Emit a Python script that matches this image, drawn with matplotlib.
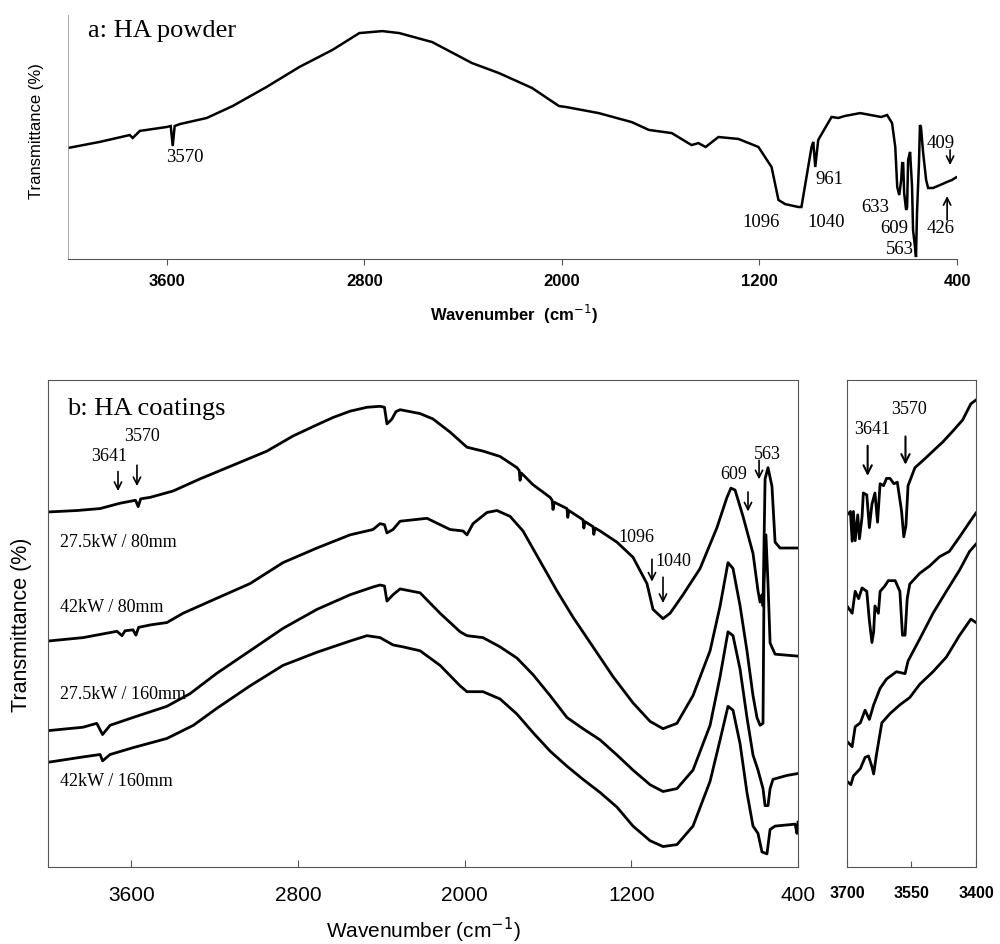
import matplotlib
matplotlib.use("Agg")
import matplotlib.pyplot as plt

SERIF = ["Liberation Serif", "DejaVu Serif"]
SANS = ["Liberation Sans", "DejaVu Sans"]

# ---------------- data ----------------
# Panel a: HA powder (wavenumber cm-1, transmittance a.u.)
powder = [(4000,45.5),(3871,48.0),(3750,50.8),(3738,49.6),(3709,52.5),(3600,54.1),(3584,54.5),
          (3576,46.3),(3568,54.5),(3547,55.3),(3438,57.8),(3333,62.7),(3196,70.5),(3063,78.7),
          (2929,85.7),(2820,92.6),(2727,93.4),(2659,92.6),(2525,88.9),(2364,80.3),(2255,76.2),
          (2121,70.1),(2012,62.7),(1984,62.3),(1851,59.8),(1717,56.1),(1648,52.9),(1555,51.6),
          (1475,46.7),(1447,47.5),(1418,45.9),(1366,50.0),(1285,49.2),(1204,45.9),(1151,37.7),
          (1123,24.2),(1096,22.5),(1042,21.3),(1030,21.3),(989,45.9),(982,48.0),(974,37.7),
          (962,48.8),(908,58.2),(881,57.8),(855,58.6),(792,59.8),(707,58.2),(683,59.0),(663,55.7),
          (650,45.9),(642,29.5),(634,26.2),(626,32.4),(622,39.3),(618,39.3),(614,27.0),(606,20.1),
          (602,21.3),(598,40.6),(590,43.9),(582,29.5),(578,11.9),(570,4.9),(566,0.8),(562,18.9),
          (554,39.3),(550,54.9),(546,54.1),(537,43.4),(525,32.4),(517,29.1),(497,29.1),(469,30.3),
          (440,31.6),(420,32.4),(408,33.2),(400,33.6)]

# Panel b: HA coatings
c_27_80 = [(4000,72.9),(3861,73.2),(3750,73.6),(3654,74.7),(3580,75.3),(3567,74.0),(3555,75.6),
           (3510,75.9),(3400,77.2),(3270,79.7),(3112,82.5),(2949,85.4),(2824,88.5),(2709,90.8),
           (2632,92.3),(2550,93.6),(2469,94.4),(2406,94.6),(2385,94.4),(2373,91.0),(2360,91.5),
           (2349,92.0),(2330,93.5),(2310,93.9),(2214,93.1),(2152,92.0),(2070,89.3),(1989,86.2),
           (1912,85.4),(1830,84.3),(1749,82.0),(1738,81.4),(1734,79.4),(1728,80.9),(1672,78.5),
           (1590,75.9),(1580,75.3),(1576,73.4),(1570,74.9),(1509,73.6),(1505,71.8),(1500,73.2),
           (1432,71.3),(1428,69.6),(1422,70.9),(1384,69.9),(1380,68.3),(1374,69.6),(1350,69.0),
           (1269,66.7),(1192,63.6),(1125,58.2),(1096,52.9),(1048,51.0),(1014,52.1),(952,55.9),
           (870,61.3),(789,69.7),(741,75.9),(722,77.8),(702,77.4),(664,72.0),(616,64.4),(592,56.7),
           (582,54.4),(573,55.9),(568,53.6),(558,79.7),(544,82.0),(525,78.2),(510,66.7),(486,65.5),
           (400,65.5)]
c_42_80 = [(4000,46.4),(3832,47.1),(3669,48.4),(3645,47.5),(3630,48.5),(3592,48.7),(3578,47.6),
           (3565,49.2),(3510,49.7),(3429,50.2),(3352,52.1),(3189,55.2),(3030,58.2),(2872,62.5),
           (2709,65.5),(2550,68.2),(2440,69.3),(2406,70.5),(2385,70.3),(2373,68.6),(2344,69.3),
           (2310,71.0),(2181,71.6),(2070,69.3),(2008,69.0),(1989,68.2),(1960,70.5),(1893,72.8),
           (1845,73.2),(1782,72.0),(1720,69.0),(1638,62.8),(1557,56.7),(1480,51.3),(1384,45.2),
           (1288,39.1),(1192,33.7),(1110,29.9),(1048,28.4),(981,29.5),(904,35.2),(822,44.4),
           (774,53.6),(736,62.5),(712,61.3),(678,53.6),(645,44.4),(616,35.2),(597,30.7),(582,29.1),
           (568,29.5),(563,58.2),(554,68.2),(544,58.2),(534,46.0),(510,43.7),(400,43.3)]
c_27_160 = [(4000,28.0),(3832,28.7),(3766,29.5),(3738,27.2),(3702,29.1),(3592,30.7),(3429,33.0),
            (3318,35.6),(3189,39.8),(3030,44.4),(2872,49.0),(2709,52.9),(2550,55.9),(2440,57.5),
            (2406,57.9),(2385,57.7),(2373,54.6),(2344,55.9),(2310,57.1),(2214,56.3),(2118,52.1),
            (2022,48.3),(1989,47.5),(1912,47.1),(1830,45.2),(1749,42.9),(1672,39.5),(1590,35.2),
            (1509,30.7),(1432,28.4),(1350,26.1),(1269,23.0),(1192,19.9),(1110,16.9),(1048,15.5),
            (981,16.1),(904,19.9),(822,29.1),(774,39.1),(736,48.3),(712,47.5),(678,40.6),(645,30.7),
            (616,23.0),(592,19.9),(568,16.1),(558,12.6),(544,12.6),(534,16.1),(520,18.0),(453,18.8),
            (400,19.2)]
c_42_160 = [(4000,21.5),(3832,22.6),(3750,23.1),(3738,21.8),(3702,23.1),(3592,24.5),(3429,26.4),
            (3302,29.1),(3189,32.6),(3030,37.2),(2872,41.4),(2709,44.1),(2550,46.4),(2469,47.5),
            (2406,47.1),(2344,45.6),(2296,45.2),(2214,44.4),(2118,41.4),(2022,37.2),(1989,36.0),
            (1912,36.0),(1830,34.5),(1749,31.4),(1672,27.6),(1590,23.8),(1509,20.7),(1432,18.0),
            (1350,15.3),(1269,12.3),(1192,8.4),(1110,5.4),(1048,4.2),(981,4.6),(904,8.4),(822,17.6),
            (774,26.1),(736,33.0),(712,32.2),(678,25.3),(645,15.3),(616,8.4),(592,6.9),(573,3.1),
            (549,2.7),(534,7.7),(510,8.4),(414,8.8),(405,6.9),(400,9.2)]
coat_labels = ["27.5kW / 80mm", "42kW / 80mm", "27.5kW / 160mm", "42kW / 160mm"]
coat_label_T = [66.6, 53.2, 35.4, 17.5]

# Panel c: 3700-3400 zoom
z_27_80 = [(3700,72.3),(3692,73.0),(3688,66.9),(3685,73.0),(3681,67.0),(3675,72.3),(3671,67.4),
           (3665,71.9),(3662,76.8),(3654,76.4),(3648,69.7),(3642,74.5),(3635,76.8),(3629,70.8),
           (3623,78.7),(3615,78.3),(3608,79.8),(3600,79.8),(3591,78.7),(3583,79.0),(3573,73.0),
           (3568,67.8),(3563,70.0),(3558,78.3),(3542,82.0),(3523,83.5),(3500,85.4),(3477,87.3),
           (3454,89.5),(3431,91.8),(3412,95.1),(3400,95.9)]
z_42_80 = [(3700,53.6),(3688,52.1),(3681,56.6),(3673,55.1),(3665,57.3),(3654,56.6),(3648,50.6),
           (3642,46.1),(3638,48.3),(3635,53.6),(3627,52.1),(3623,56.6),(3612,57.7),(3604,58.8),
           (3588,58.8),(3577,56.6),(3571,47.6),(3565,47.6),(3560,55.1),(3554,58.1),(3531,60.3),
           (3508,61.8),(3485,63.7),(3462,64.8),(3438,67.8),(3415,70.8),(3400,72.7)]
z_27_160 = [(3700,25.8),(3688,24.7),(3681,28.8),(3669,29.6),(3658,32.2),(3648,30.3),(3638,33.3),
            (3623,36.7),(3608,38.6),(3585,40.1),(3565,39.7),(3558,42.3),(3531,46.8),(3500,52.1),
            (3469,56.6),(3438,61.0),(3415,64.8),(3400,66.3)]
z_42_160 = [(3700,17.6),(3691,16.9),(3685,18.7),(3669,20.2),(3658,22.5),(3650,22.8),(3642,20.6),
            (3638,19.1),(3632,22.8),(3619,29.6),(3600,31.5),(3577,33.3),(3554,34.8),(3531,37.5),
            (3500,40.1),(3469,43.1),(3438,47.6),(3412,50.9),(3400,50.2)]

ticks_ab = [3600, 2800, 2000, 1200, 400]
ticks_c = [3700, 3550, 3400]

# annotations: (text, x, y)
powder_notes = [("3570", 3527, 41.4), ("961", 918, 32.4), ("1096", 1194, 14.8), ("1040", 931, 14.8),
                ("633", 732, 21.3), ("609", 655, 12.7), ("563", 631, 3.7), ("426", 465, 12.7),
                ("409", 465, 47.5)]
powder_arrows = [((428, 44.7), (428, 38.5)), ((440, 16.0), (440, 25.8))]
coat_notes = [("3641", 3707, 84.2), ("3570", 3549, 88.4), ("1096", 1178, 67.6), ("1040", 1000, 62.7),
              ("609", 707, 80.6), ("563", 549, 84.7)]
coat_arrows = [((3664, 81.2), (3664, 77.2)), ((3573, 82.5), (3573, 78.2)),
               ((1101, 63.2), (1101, 58.6)), ((1048, 59.5), (1048, 54.2)),
               ((640, 77.0), (640, 73.0)), ((587, 83.5), (587, 79.6))]
zoom_notes = [("3641", 3642, 89.9), ("3570", 3555, 94.0)]
zoom_arrows = [((3652, 86.5), (3652, 80.3)), ((3564, 88.4), (3564, 82.6))]

# ---------------- figure ----------------
W, H = 1000, 944
fig = plt.figure(figsize=(W / 100, H / 100), dpi=100)

def box(l, t, r, b):
    return [l / W, 1 - b / H, (r - l) / W, (b - t) / H]

axa = fig.add_axes(box(68, 15, 957, 259))
axb = fig.add_axes(box(48, 380, 798, 867))
axc = fig.add_axes(box(847, 380, 976, 867))

spine_col = "#555555"

def xy(data):
    return [p[0] for p in data], [p[1] for p in data]

def arrow(ax, tail, head, lw=1.2, ms=13):
    ax.annotate("", xy=head, xytext=tail,
                arrowprops=dict(arrowstyle="->", lw=lw, color="black",
                                mutation_scale=ms, shrinkA=0, shrinkB=0))

# Panel a
x, y = xy(powder)
axa.plot(x, y, color="black", lw=1.8, solid_joinstyle="miter")
axa.set_xlim(4000, 400)
axa.set_ylim(0, 100)
axa.set_xticks(ticks_ab)
axa.set_yticks([])
for s in ["top", "right"]:
    axa.spines[s].set_visible(False)
axa.spines["left"].set_color("#9a9a9a")
axa.spines["left"].set_linewidth(0.6)
axa.spines["bottom"].set_color(spine_col)
axa.spines["bottom"].set_linewidth(0.8)
axa.tick_params(axis="x", direction="out", length=4, width=0.8, color=spine_col, pad=7)
for lab in axa.get_xticklabels():
    lab.set_fontfamily(SANS); lab.set_fontweight("bold"); lab.set_fontsize(12)
axa.text(3919, 93.4, "a: HA powder", family=SERIF, fontsize=19, va="center", ha="left")
for t, px, py in powder_notes:
    axa.text(px, py, t, family=SERIF, fontsize=13.5, ha="center", va="center")
for tail, head in powder_arrows:
    arrow(axa, tail, head)
fig.text(37 / W, 1 - 131 / H, "Transmittance (%)", family=SANS, fontsize=12,
         rotation=90, ha="center", va="center")
fig.text(514 / W, 1 - 314 / H, "Wavenumber  (cm$^{-1}$)", family=SANS, fontsize=12,
         fontweight="bold", ha="center", va="center")

# Panel b
for data in [c_27_80, c_42_80, c_27_160, c_42_160]:
    x, y = xy(data)
    axb.plot(x, y, color="black", lw=2.0)
axb.set_xlim(4000, 400)
axb.set_ylim(0, 100)
axb.set_xticks(ticks_ab)
axb.set_yticks([])
for s in axb.spines.values():
    s.set_color(spine_col); s.set_linewidth(0.8)
axb.tick_params(axis="x", direction="in", length=5, width=0.8, color=spine_col, pad=14)
for lab in axb.get_xticklabels():
    lab.set_fontfamily(SANS); lab.set_fontsize(15)
axb.text(3909, 94.1, "b: HA coatings", family=SERIF, fontsize=19, va="center", ha="left")
for lab, ty in zip(coat_labels, coat_label_T):
    axb.text(3942, ty, lab, family=SERIF, fontsize=13, va="center", ha="left")
for t, px, py in coat_notes:
    axb.text(px, py, t, family=SERIF, fontsize=13, ha="center", va="center")
for tail, head in coat_arrows:
    arrow(axb, tail, head)
fig.text(22 / W, 1 - 625 / H, "Transmittance (%)", family=SANS, fontsize=15.5,
         rotation=90, ha="center", va="center")
fig.text(423 / W, 1 - 930 / H, "Wavenumber (cm$^{-1}$)", family=SANS, fontsize=15,
         ha="center", va="center")

# Panel c
for data in [z_27_80, z_42_80, z_27_160, z_42_160]:
    x, y = xy(data)
    axc.plot(x, y, color="black", lw=2.0)
axc.set_xlim(3700, 3400)
axc.set_ylim(0, 100)
axc.set_xticks(ticks_c)
axc.set_yticks([])
for s in axc.spines.values():
    s.set_color(spine_col); s.set_linewidth(0.8)
axc.tick_params(axis="x", direction="in", length=4, width=0.8, color=spine_col, pad=14)
for lab in axc.get_xticklabels():
    lab.set_fontfamily(SANS); lab.set_fontsize(11.5); lab.set_fontweight("bold")
for t, px, py in zoom_notes:
    axc.text(px, py, t, family=SERIF, fontsize=13, ha="center", va="center")
for tail, head in zoom_arrows:
    arrow(axc, tail, head, lw=1.5, ms=15)

fig.savefig("out.png", dpi=100)
